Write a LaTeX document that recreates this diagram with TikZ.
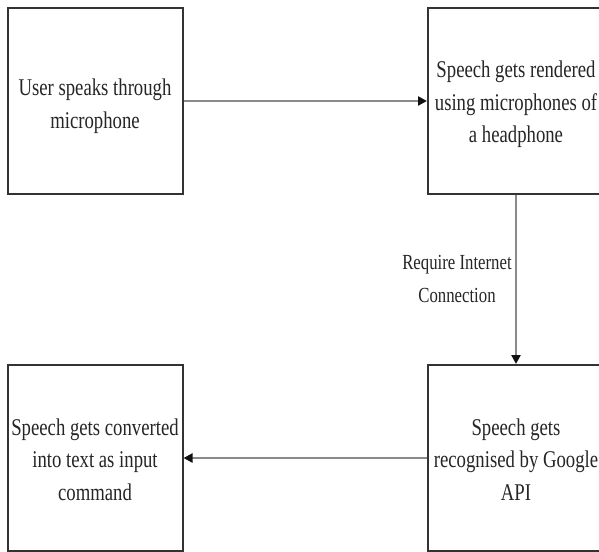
\documentclass[tikz,border=0pt]{standalone}
\usepackage{fontspec}
\setmainfont{Liberation Serif}[FakeStretch=0.78]
\usetikzlibrary{arrows.meta}
\definecolor{boxline}{HTML}{333333}
\definecolor{arrline}{HTML}{8A8A8A}
\definecolor{headcol}{HTML}{111111}
\tikzset{
  stepbox/.style={draw=boxline, line width=2pt, fill=white, minimum width=175pt, minimum height=186pt, inner sep=0pt},
  boxtext/.style={align=center, inner sep=0pt, font=\fontsize{24}{32.5}\selectfont, text=black!85},
  flow/.style={draw=arrline, line width=2.4pt, -{Triangle[length=9pt,width=9pt,color=headcol]}},
  lbl/.style={align=center, font=\fontsize{21.5}{33}\selectfont, text=black!85, inner sep=0pt}
}
\begin{document}
\begin{tikzpicture}[x=1pt,y=-1pt]
\useasboundingbox (0,0) rectangle (599,551);
\clip (0,0) rectangle (599,551);
\fill[white] (0,0) rectangle (599,551);
\node[stepbox] (tl) at (95,101) {};
\node[stepbox, minimum width=176pt] (tr) at (516,101) {};
\node[stepbox] (bl) at (95,458) {};
\node[stepbox, minimum width=176pt] (br) at (516,458) {};
\node[boxtext] (tlt) at ([yshift=-5pt]tl.center) {User speaks through\\microphone};
\node[boxtext] (trt) at ([yshift=-3.5pt]tr.center) {Speech gets rendered\\using microphones of\\a headphone};
\node[boxtext] (blt) at ([yshift=-1.5pt]bl.center) {Speech gets converted\\into text as input\\command};
\node[boxtext] (brt) at ([yshift=-1.5pt]br.center) {Speech gets\\recognised by Google\\API};
\draw[flow] (tl.east) -- (tr.west);
\draw[flow] (tr.south) -- (br.north);
\draw[flow] (br.west) -- (bl.east);
\node[lbl] (req) at (457,279) {Require Internet\\Connection};
\end{tikzpicture}
\end{document}
